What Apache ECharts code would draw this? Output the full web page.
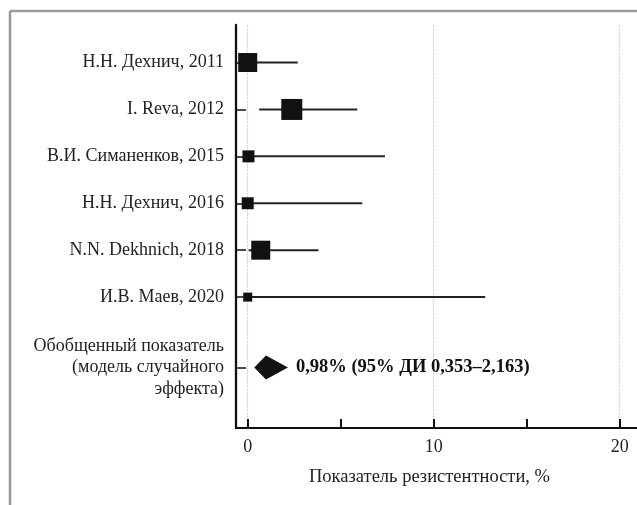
<!DOCTYPE html>
<html>
<head>
<meta charset="utf-8">
<script src="https://cdn.jsdelivr.net/npm/echarts@6/dist/echarts.min.js"></script>
<style>html,body{margin:0;padding:0;background:#fff;}#c{width:637px;height:505px;}</style>
</head>
<body>
<div id="c"></div>
<script>
const studies = ['Н.Н. Дехнич, 2011', 'I. Reva, 2012', 'В.И. Симаненков, 2015', 'Н.Н. Дехнич, 2016', 'N.N. Dekhnich, 2018', 'И.В. Маев, 2020'];
const rows = [1, 2, 3, 4, 5, 6];
const estimates = [0, 2.37, 0.04, 0, 0.7, 0];
const lower = [0, 0.62, 0, 0, 0.05, 0];
const upper = [2.69, 5.89, 7.38, 6.16, 3.8, 12.77];
const weights = [23.6, 28.8, 9.4, 9.4, 23.6, 5.3];
const pooledLabel = 'Обобщенный показатель\n(модель случайного\nэффекта)';
const pooledRow = 7.5;
const pooledEst = 0.98;
const pooledLo = 0.353;
const pooledHi = 2.163;
const pooledText = '0,98% (95% ДИ 0,353–2,163)';
const xTicks = [0, 5, 10, 15, 20];
const xLabels = [0, 10, 20];
const xGrid = [0, 10, 20];

const FONT = '"Liberation Serif", "DejaVu Serif", serif';
const chart = echarts.init(document.getElementById('c'), null, {renderer: 'canvas'});
const yTicks = rows.concat([pooledRow]);

chart.setOption({
  animation: false,
  backgroundColor: '#fff',
  graphic: [
    {type: 'line', shape: {x1: 10, y1: 11, x2: 640, y2: 11}, style: {stroke: '#9a9a9a', lineWidth: 2.5}},
    {type: 'line', shape: {x1: 10, y1: 11, x2: 10, y2: 510}, style: {stroke: '#9a9a9a', lineWidth: 2.5}}
  ],
  grid: {left: 236, top: 25, right: 0, bottom: 77, containLabel: false},
  xAxis: {
    type: 'value', min: -0.63, max: 20.93,
    axisLine: {show: true, onZero: false, lineStyle: {color: '#111', width: 2}},
    axisTick: {show: true, inside: true, length: 9, customValues: xTicks, lineStyle: {color: '#111', width: 2}},
    axisLabel: {customValues: xLabels, margin: 10, color: '#222', fontFamily: FONT, fontSize: 18},
    splitLine: {show: false},
    name: 'Показатель резистентности, %', nameLocation: 'middle', nameGap: 40,
    nameTextStyle: {color: '#222', fontFamily: FONT, fontSize: 18.5, padding: [0, 14, 0, 0]}
  },
  yAxis: {
    type: 'value', inverse: true, min: 0.2, max: 8.79,
    axisLine: {show: true, onZero: false, lineStyle: {color: '#111', width: 2.3}},
    axisTick: {show: true, inside: true, length: 10, customValues: yTicks, lineStyle: {color: '#111', width: 1.5}},
    axisLabel: {
      customValues: yTicks, margin: 12, color: '#222', fontFamily: FONT, fontSize: 18, lineHeight: 21.7, align: 'right',
      formatter: function (v) { return v === pooledRow ? pooledLabel : studies[rows.indexOf(v)]; }
    },
    splitLine: {show: false}
  },
  series: [
    {
      type: 'custom', z: 2, silent: true,
      data: rows.map((r, i) => [lower[i], upper[i], r]),
      encode: {x: [0, 1], y: 2},
      renderItem: function (params, api) {
        const y = api.value(2);
        const p1 = api.coord([api.value(0), y]);
        const p2 = api.coord([api.value(1), y]);
        return {type: 'line', shape: {x1: p1[0], y1: p1[1], x2: p2[0], y2: p2[1]}, style: {stroke: '#222', lineWidth: 2}};
      },
      markLine: {
        silent: true, symbol: 'none', label: {show: false}, z: 0,
        lineStyle: {color: '#c4c4c4', type: 'dotted', width: 1.2},
        data: xGrid.map(v => ({xAxis: v}))
      }
    },
    {
      type: 'scatter', z: 3, silent: true, symbol: 'rect',
      data: rows.map((r, i) => [estimates[i], r]),
      symbolSize: function (val, params) { return 3.91 * Math.sqrt(weights[params.dataIndex]); },
      itemStyle: {color: '#111', opacity: 1}
    },
    {
      type: 'custom', z: 3, silent: true,
      data: [[pooledLo, pooledEst, pooledHi, pooledRow]],
      encode: {x: [0, 1, 2], y: 3},
      renderItem: function (params, api) {
        const y = api.value(3);
        const a = api.coord([api.value(0), y]);
        const m = api.coord([api.value(1), y]);
        const b = api.coord([api.value(2), y]);
        const h = 12;
        return {
          type: 'group',
          children: [
            {type: 'polygon', shape: {points: [[a[0], a[1]], [m[0], m[1] - h], [b[0], b[1]], [m[0], m[1] + h]]}, style: {fill: '#111'}},
            {type: 'text', style: {x: b[0] + 8, y: b[1], text: pooledText, fill: '#111', font: 'bold 18.5px ' + FONT, verticalAlign: 'middle', align: 'left'}}
          ]
        };
      }
    }
  ]
});
</script>
</body>
</html>
